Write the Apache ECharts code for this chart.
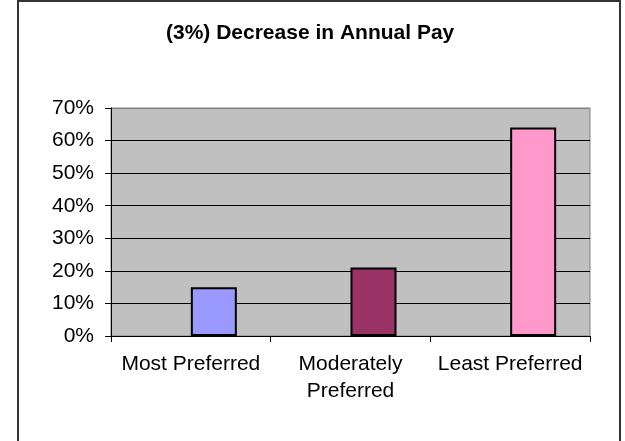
<!DOCTYPE html>
<html>
<head>
<meta charset="utf-8">
<script src="https://cdn.jsdelivr.net/npm/echarts@6/dist/echarts.min.js"></script>
<style>
html,body{margin:0;padding:0;background:#fff;}
#c{width:625px;height:441px;}
</style>
</head>
<body>
<div id="c"></div>
<script>
var categories = ['Most Preferred', 'Moderately\nPreferred', 'Least Preferred'];
var values = [0.15, 0.21, 0.64];
var emptySeries = ['-', '-', '-'];
var barColors = ['#9999FF', '#993366', '#FF99CC'];
var yTicks = [0, 0.1, 0.2, 0.3, 0.4, 0.5, 0.6, 0.7];
var titleText = '(3%) Decrease in Annual Pay';

var chart = echarts.init(document.getElementById('c'), null, {renderer: 'canvas'});
var font = '"Liberation Sans", Arial, sans-serif';
chart.setOption({
  animation: false,
  backgroundColor: '#fff',
  title: {
    text: titleText,
    left: 166,
    top: 23,
    padding: 0,
    textStyle: {fontFamily: font, fontSize: 21, fontWeight: 'bold', color: '#000'}
  },
  graphic: [{
    type: 'rect',
    shape: {x: 18, y: 1, width: 602, height: 460},
    style: {fill: null, stroke: '#333', lineWidth: 2},
    silent: true
  }],
  grid: {
    left: 111, right: 35, top: 108, bottom: 105,
    show: true, backgroundColor: '#C0C0C0', borderColor: '#808080', borderWidth: 1
  },
  xAxis: {
    type: 'category',
    data: categories,
    axisLine: {lineStyle: {color: '#000', width: 1}},
    axisTick: {show: true, length: 6, lineStyle: {color: '#000'}},
    axisLabel: {fontFamily: font, fontSize: 21, color: '#000', margin: 15, lineHeight: 27, interval: 0}
  },
  yAxis: {
    type: 'value',
    min: yTicks[0],
    max: yTicks[yTicks.length - 1],
    interval: 0.1,
    axisLine: {show: true, lineStyle: {color: '#000', width: 1}},
    axisTick: {show: true, length: 6, lineStyle: {color: '#000'}},
    axisLabel: {
      fontFamily: font, fontSize: 21, color: '#000', margin: 17,
      formatter: function (v) { return Math.round(v * 100) + '%'; }
    },
    splitLine: {show: true, lineStyle: {color: ['#000','#000','#000','#000','#000','#000','#000','#808080'], width: 1}}
  },
  series: [{
    type: 'bar',
    barWidth: 46,
    barGap: 0,
    data: emptySeries
  }, {
    type: 'bar',
    barWidth: 46,
    barGap: 0,
    data: values.map(function (v, i) {
      return {value: v, itemStyle: {color: barColors[i], borderColor: '#000', borderWidth: 2}};
    })
  }]
});
</script>
</body>
</html>
